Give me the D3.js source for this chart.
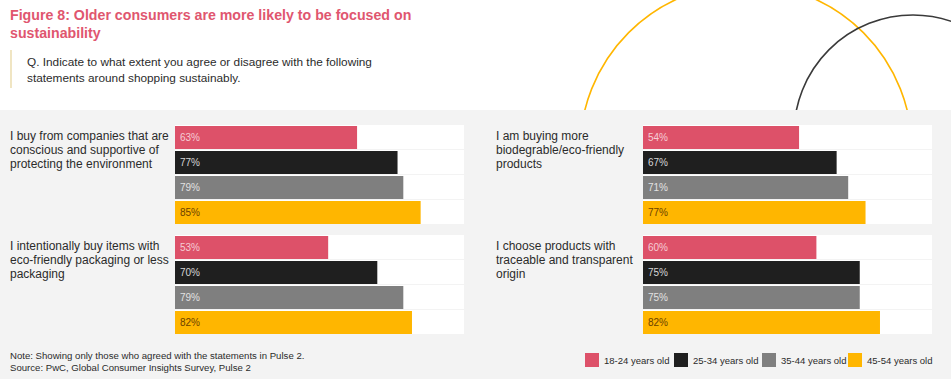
<!DOCTYPE html>
<html>
<head>
<meta charset="utf-8">
<script src="https://cdn.jsdelivr.net/npm/d3@7"></script>
<style>
  html, body { margin: 0; padding: 0; background: #ffffff; }
  svg { display: block; font-family: "Liberation Sans", Arial, Helvetica, sans-serif; }
</style>
</head>
<body>
<svg id="chart" width="951" height="379"></svg>
<script>
// ---------- data ----------
const titleLines = ["Figure 8: Older consumers are more likely to be focused on", "sustainability"];
const questionLines = ["Q. Indicate to what extent you agree or disagree with the following", "statements around shopping sustainably."];
const statements = [
  ["I buy from companies that are", "conscious and supportive of", "protecting the environment"],
  ["I am buying more", "biodegrable/eco-friendly", "products"],
  ["I intentionally buy items with", "eco-friendly packaging or less", "packaging"],
  ["I choose products with", "traceable and transparent", "origin"]
];
const ageGroups = ["18-24 years old", "25-34 years old", "35-44 years old", "45-54 years old"];
const values18to24 = [63, 54, 53, 60];
const values25to34 = [77, 67, 70, 75];
const values35to44 = [79, 71, 79, 75];
const values45to54 = [85, 77, 82, 82];
const noteLines = ["Note: Showing only those who agreed with the statements in Pulse 2.", "Source: PwC, Global Consumer Insights Survey, Pulse 2"];

const seriesValues = [values18to24, values25to34, values35to44, values45to54];
const colors = ["#dd5169", "#1f1f1f", "#7f7f7f", "#ffb600"];
const labelColors = ["#f6cdd5", "#d6d6d6", "#e2e2e2", "#6b4200"];

// ---------- layout ----------
const svg = d3.select("#chart");
const W = 951, H = 379;

svg.append("rect").attr("x", 0).attr("y", 0).attr("width", W).attr("height", 110).attr("fill", "#ffffff");
svg.append("rect").attr("x", 0).attr("y", 110).attr("width", W).attr("height", H - 110).attr("fill", "#f3f3f3");

// decorative arcs (clipped to the white header)
svg.append("clipPath").attr("id", "headClip").append("rect")
  .attr("x", 0).attr("y", 0).attr("width", W).attr("height", 110);
const deco = svg.append("g").attr("clip-path", "url(#headClip)");
deco.append("circle").attr("cx", 746).attr("cy", 150).attr("r", 166)
  .attr("fill", "none").attr("stroke", "#ffb600").attr("stroke-width", 1.6);
deco.append("circle").attr("cx", 913).attr("cy", 134).attr("r", 119)
  .attr("fill", "none").attr("stroke", "#3a3a3a").attr("stroke-width", 1.6);

// title
svg.append("g").selectAll("text").data(titleLines).join("text")
  .attr("x", 10).attr("y", (d, i) => 20 + i * 18)
  .attr("font-size", 14.2).attr("font-weight", "bold").attr("fill", "#e0566f")
  .text(d => d);

// question
svg.append("line").attr("x1", 11).attr("x2", 11).attr("y1", 50).attr("y2", 88)
  .attr("stroke", "#e6d49a").attr("stroke-width", 1.2);
svg.append("g").selectAll("text").data(questionLines).join("text")
  .attr("x", 27).attr("y", (d, i) => 66 + i * 15.5)
  .attr("font-size", 11.8).attr("fill", "#2b2b2b")
  .text(d => d);

// scales
const x = d3.scaleLinear().domain([0, 100]).range([0, 289]);
const y = d3.scaleBand().domain(ageGroups).range([0, 98]).paddingInner(0.08).paddingOuter(0);

const panels = [
  { labelX: 10, barX: 175, top: 126 },
  { labelX: 496, barX: 643, top: 126 },
  { labelX: 10, barX: 175, top: 236 },
  { labelX: 496, barX: 643, top: 236 }
];

panels.forEach((p, si) => {
  const g = svg.append("g");
  g.append("g").selectAll("text").data(statements[si]).join("text")
    .attr("x", p.labelX).attr("y", (d, i) => p.top + 13.5 + i * 14.3)
    .attr("font-size", 12).attr("fill", "#2b2b2b")
    .text(d => d);

  const rows = ageGroups.map((a, k) => ({ age: a, value: seriesValues[k][si], k }));
  const bg = g.append("g").attr("transform", `translate(${p.barX},${p.top - 1})`);
  bg.selectAll("rect.track").data(rows).join("rect").attr("class", "track")
    .attr("x", 0).attr("y", d => y(d.age))
    .attr("width", x(100)).attr("height", y.step() - 1)
    .attr("fill", "#ffffff");
  const bars = g.append("g").attr("transform", `translate(${p.barX},${p.top})`);
  bars.selectAll("rect.bar").data(rows).join("rect").attr("class", "bar")
    .attr("x", 0).attr("y", d => y(d.age))
    .attr("width", d => x(d.value)).attr("height", y.bandwidth())
    .attr("fill", d => colors[d.k]);
  bars.selectAll("text").data(rows).join("text")
    .attr("x", 5).attr("y", d => y(d.age) + y.bandwidth() / 2 + 3.5)
    .attr("font-size", 10).attr("fill", d => labelColors[d.k])
    .text(d => d.value + "%");
});

// notes
svg.append("g").selectAll("text").data(noteLines).join("text")
  .attr("x", 10).attr("y", (d, i) => 359 + i * 11.5)
  .attr("font-size", 9.6).attr("fill", "#2b2b2b")
  .text(d => d);

// legend
const legendX = [585, 674, 762, 848];
const lg = svg.append("g").selectAll("g").data(ageGroups).join("g")
  .attr("transform", (d, i) => `translate(${legendX[i]},353)`);
lg.append("rect").attr("width", 14).attr("height", 14).attr("fill", (d, i) => colors[i]);
lg.append("text").attr("x", 19).attr("y", 10.5).attr("font-size", 9.5).attr("fill", "#2b2b2b").text(d => d);
</script>
</body>
</html>
